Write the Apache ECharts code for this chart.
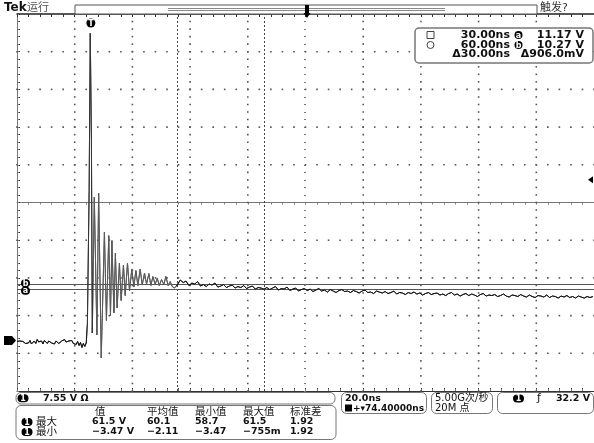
<!DOCTYPE html>
<html><head><meta charset="utf-8">
<script src="https://cdn.jsdelivr.net/npm/echarts@6/dist/echarts.min.js"></script>
<style>html,body{margin:0;padding:0;background:#fff}#c{width:594px;height:443px}</style>
</head><body><div id="c"></div>
<script>
// ===== DATA =====
const preTriggerStartNs = -25.6;
const preTriggerStepNs = 0.5;
const preTriggerVolts = [
  -0.2, -0.6, -0.1, -0.5, -0.2, 0.1, -0.6, -0.2, -0.5, 0.0,
  -0.7, -0.3, -0.1, -0.6, 0.2, -0.3, -0.5, -0.1, -0.7, 0.0,
  -0.3, -0.6, -0.1, 0.1, -0.5, -0.2, -0.7, -0.1, 0.0, -0.6,
  -0.3, -0.1, -0.5, 0.2, -0.3, -0.7, -0.1, -0.5, 0.0, -0.6,
  -0.3, -0.8, -0.2, -1.0, -0.4, -1.4, -0.6, -1.2, -0.5
];
const spikeTimesNs = [-1.2, -0.6, -0.2, 0.2, 0.5];
const spikeVolts = [3.3, 30.0, 61.5, 40.0, 1.5];
const ringTimesNs = [1.2, 2.1, 2.7, 3.6, 4.7, 5.4, 6.2, 6.8, 7.3, 8.0,
  8.5, 9.1, 9.9, 10.5, 11.3, 11.9, 12.7, 13.4, 14.2, 14.9,
  15.6, 16.3, 17.1, 17.8, 18.6, 19.3, 20.1, 20.8, 21.5, 22.3,
  23.0, 23.7, 24.5, 25.3, 26.0, 26.8, 27.5, 28.2, 29.0];
const ringVolts = [28.7, 1.1, 29.5, -3.47, 21.7, 4.0, 21.0, 5.0, 20.0, 5.5,
  17.5, 6.5, 15.5, 8.0, 15.1, 9.0, 15.5, 10.0, 14.3, 10.7,
  14.0, 11.0, 14.3, 11.1, 13.5, 11.3, 13.4, 11.0, 12.8, 11.2,
  12.5, 11.0, 12.2, 11.2, 12.8, 11.0, 11.8, 10.8, 10.5];
const tailStartNs = 30;
const tailStepNs = 1;
const tailVolts = [
  11.17, 12.1, 11.6, 11.9, 11.0, 11.5, 11.3, 11.8, 10.9, 11.2,
  10.8, 11.3, 11.1, 11.5, 10.7, 10.9, 11.2, 10.6, 10.9, 11.1,
  10.5, 10.8, 10.6, 11.0, 10.4, 10.7, 10.9, 10.3, 10.6, 10.5,
  10.27, 10.6, 10.2, 10.5, 10.8, 10.1, 10.4, 10.3, 10.7, 10.0,
  10.3, 10.5, 9.9, 10.2, 10.4, 10.0, 10.3, 9.8, 10.1, 10.4,
  9.9, 10.1, 9.7, 10.2, 9.9, 9.6, 10.0, 10.2, 9.8, 9.9,
  9.6, 10.0, 9.8, 9.5, 9.9, 10.1, 9.6, 9.7, 9.4, 9.9,
  9.7, 9.5, 9.8, 9.4, 9.6, 9.9, 9.3, 9.6, 9.5, 9.2,
  9.6, 9.4, 9.7, 9.3, 9.5, 9.1, 9.4, 9.6, 9.2, 9.4,
  9.5, 9.1, 9.3, 9.0, 9.4, 9.6, 9.1, 9.3, 8.9, 9.2,
  9.4, 9.0, 9.3, 9.1, 8.8, 9.2, 9.4, 8.9, 9.1, 9.0,
  9.2, 8.8, 9.0, 9.3, 8.9, 8.7, 9.1, 9.0, 8.8, 9.2,
  8.9, 8.7, 9.1, 8.8, 8.6, 9.0, 8.9, 8.7, 9.1, 8.6,
  8.9, 8.8, 8.5, 8.9, 8.7, 9.0, 8.6, 8.8, 8.5, 8.9,
  8.7, 8.5, 8.8, 8.6, 8.8
];
const cursorTimesNs = [30, 60];
const cursorVolts = [11.17, 10.27];
const cursorTimeLabels = ['30.00ns', '60.00ns', '\u039430.00ns'];
const cursorVoltLabels = ['11.17 V', '10.27 V', '\u0394906.0mV'];
const triggerLevelV = 32.2;
const measHeaders = ['值', '平均值', '最小值', '最大值', '标准差'];
const measRowNames = ['最大', '最小'];
const measRow1 = ['61.5 V', '60.1', '58.7', '61.5', '1.92'];
const measRow2 = ['\u22123.47 V', '\u22122.11', '\u22123.47', '\u2212755m', '1.92'];
const chScaleLabel = '7.55 V \u03A9';
const timebaseLabels = ['20.0ns', '+\u25BE74.40000ns'];
const sampleLabels = ['5.00G次/秒', '20M 点'];
const triggerLabel = '32.2 V';

// ===== scales =====
const voltsPerDiv = 7.55, groundDiv = 1.34, nsPerDiv = 20, horizPosNs = 74.4;
const vMin = -groundDiv * voltsPerDiv, vMax = (10 - groundDiv) * voltsPerDiv;
const tMin = horizPosNs - 5 * nsPerDiv, tMax = horizPosNs + 5 * nsPerDiv;

const trace = [];
preTriggerVolts.forEach((v, i) => trace.push([+(preTriggerStartNs + i * preTriggerStepNs).toFixed(2), v]));
spikeTimesNs.forEach((t, i) => trace.push([t, spikeVolts[i]]));
ringTimesNs.forEach((t, i) => trace.push([t, ringVolts[i]]));
tailVolts.forEach((v, i) => trace.push([tailStartNs + i * tailStepNs, v]));

// graticule dots (division units, minor step = 1/5 division)
const gratDots = [];
for (let k = 1; k <= 9; k++) {
  if (k === 5) continue;
  for (let j = 0; j <= 50; j++) { gratDots.push([k, j / 5]); gratDots.push([j / 5, k]); }
}

const chart = echarts.init(document.getElementById('c'), null, {renderer: 'canvas', width: 594, height: 443});
const L = 17, T = 14, W = 578, H = 377;
const gridLine = '#333', crossCol = '#777';
function gAxis(extra) {
  return Object.assign({type: 'value', min: 0, max: 10, interval: 1, axisLabel: {show: false},
    splitLine: {show: false}, axisTick: {show: false}, minorTick: {show: false}, axisLine: {show: false}}, extra);
}
const hidden = (gi) => ({type: 'value', gridIndex: gi, show: false, min: 0, max: 10});

chart.setOption({
  animation: false,
  backgroundColor: '#fff',
  grid: [
    {left: L, top: T, width: W, height: H},
    {left: L, top: T, width: W, height: H},
    {left: L, top: T, width: W, height: H / 2},
    {left: L, top: T + H / 2, width: W, height: H / 2},
    {left: L, top: T, width: W / 2, height: H},
    {left: L + W / 2, top: T, width: W / 2, height: H}
  ],
  xAxis: [
    gAxis({gridIndex: 0, position: 'bottom',
      axisLine: {show: true, lineStyle: {color: gridLine, width: 1}},
      axisTick: {show: true, inside: true, length: 3, lineStyle: {color: gridLine}},
      minorTick: {show: true, splitNumber: 5, length: 3, lineStyle: {color: gridLine}}}),
    gAxis({gridIndex: 0, position: 'top',
      axisLine: {show: true, lineStyle: {color: '#222', width: 1.5}},
      axisTick: {show: true, inside: true, length: 3, lineStyle: {color: gridLine}},
      minorTick: {show: true, splitNumber: 5, length: 3, lineStyle: {color: gridLine}}}),
    gAxis({gridIndex: 2, position: 'bottom',
      axisLine: {show: true, lineStyle: {color: crossCol, width: 1}},
      axisTick: {show: true, length: 2, lineStyle: {color: crossCol}},
      minorTick: {show: true, splitNumber: 5, length: 2, lineStyle: {color: crossCol}}}),
    gAxis({gridIndex: 3, position: 'top',
      axisTick: {show: true, length: 2, lineStyle: {color: crossCol}},
      minorTick: {show: true, splitNumber: 5, length: 2, lineStyle: {color: crossCol}}}),
    hidden(4), hidden(5),
    {type: 'value', gridIndex: 1, show: false, min: tMin, max: tMax}
  ],
  yAxis: [
    gAxis({gridIndex: 0, position: 'left',
      axisLine: {show: true, lineStyle: {color: gridLine, width: 1}},
      axisTick: {show: true, inside: true, length: 3, lineStyle: {color: gridLine}},
      minorTick: {show: true, splitNumber: 5, length: 3, lineStyle: {color: gridLine}}}),
    hidden(2), hidden(3),
    gAxis({gridIndex: 4, position: 'right',
      axisLine: {show: true, lineStyle: {color: crossCol, width: 1}},
      axisTick: {show: true, length: 2, lineStyle: {color: crossCol}},
      minorTick: {show: true, splitNumber: 5, length: 2, lineStyle: {color: crossCol}}}),
    gAxis({gridIndex: 5, position: 'left',
      axisTick: {show: true, length: 2, lineStyle: {color: crossCol}},
      minorTick: {show: true, splitNumber: 5, length: 2, lineStyle: {color: crossCol}}}),
    {type: 'value', gridIndex: 1, show: false, min: vMin, max: vMax}
  ],
  visualMap: {show: false, type: 'piecewise', seriesIndex: 0, dimension: 0,
    pieces: [{lt: -1.4, color: '#1a1a1a'}, {gte: -1.4, lt: 0.6, color: '#333'}, {gte: 0.6, lt: 29.5, color: '#5a5a5a'}, {gte: 29.5, color: '#1a1a1a'}]},
  series: [{
    type: 'line', xAxisIndex: 6, yAxisIndex: 5, data: trace, showSymbol: false, symbol: 'none',
    lineStyle: {width: 1}, z: 10, silent: true,
    markLine: {
      silent: true, symbol: 'none', label: {show: false}, z: 5,
      data: [
        {xAxis: cursorTimesNs[0], lineStyle: {color: '#444', width: 1, type: [2, 2]}},
        {xAxis: cursorTimesNs[1], lineStyle: {color: '#444', width: 1, type: [2, 2]}},
        {yAxis: cursorVolts[0], lineStyle: {color: '#555', width: 1, type: 'solid'}},
        {yAxis: cursorVolts[1], lineStyle: {color: '#555', width: 1, type: 'solid'}}
      ]
    }
  }, {
    type: 'scatter', xAxisIndex: 0, yAxisIndex: 0, data: gratDots, symbol: 'rect', symbolSize: 1.6,
    itemStyle: {color: '#555', opacity: 1}, silent: true, z: 1, animation: false, large: false
  }]
});

// ===== overlay annotations =====
const FONT = '"DejaVu Sans","Noto Sans CJK SC",sans-serif';
function txt(x, y, s, o) {
  o = o || {};
  return {type: 'text', x: x, y: y, z: 101, silent: true, style: {text: s, fill: o.fill || '#111',
    font: (o.weight || 'bold') + ' ' + (o.size || 9.5) + 'px ' + FONT,
    textAlign: o.align || 'left', align: o.align || 'left', textVerticalAlign: 'middle', verticalAlign: 'middle'}};
}
function rect(x, y, w, h, o) {
  o = o || {};
  return {type: 'rect', z: o.z || 99, silent: true, shape: {x: x, y: y, width: w, height: h, r: o.r || 0},
    style: {fill: o.fill || 'none', stroke: o.stroke || null, lineWidth: o.lw || 1}};
}
function badge(cx, cy, s, w, h) {
  return [rect(cx - w / 2, cy - h / 2, w, h, {fill: '#000', r: h / 2, z: 100}),
          txt(cx, cy + 0.5, s, {fill: '#fff', align: 'center', size: 8})];
}
function line(x1, y1, x2, y2, col, lw) {
  return {type: 'line', z: 99, silent: true, shape: {x1: x1, y1: y1, x2: x2, y2: y2}, style: {stroke: col, lineWidth: lw || 1}};
}
const px = (t, v) => chart.convertToPixel({xAxisIndex: 6, yAxisIndex: 5}, [t, v]);
const p0 = px(0, 0), pA = px(cursorTimesNs[0], cursorVolts[0]), pB = px(cursorTimesNs[1], cursorVolts[1]);
const pTrig = px(tMax, triggerLevelV);

let g = [];
// top bar
g.push(txt(4, 8, 'Tek', {size: 12}));
g.push(txt(27, 8, '运行', {weight: 'normal', size: 11, fill: '#555'}));
g.push(rect(75, 5, 462, 9, {fill: '#fff', stroke: '#555'}));
g.push(line(168, 8.5, 445, 8.5, '#888'), line(168, 10.5, 445, 10.5, '#888'));
g.push(rect(305, 5, 4, 9, {fill: '#000', z: 100}));
g.push({type: 'polygon', z: 100, silent: true, shape: {points: [[303.5, 13], [310.5, 13], [307, 18]]}, style: {fill: '#000'}});
g.push(txt(540, 8, '触发?', {weight: 'normal', size: 11, fill: '#333'}));
// trigger T marker
g = g.concat(badge(p0[0], 23, 'T', 9, 9));
// ground marker
g.push({type: 'polygon', z: 100, silent: true, shape: {points: [[4, p0[1] - 4.5], [12, p0[1] - 4.5], [16, p0[1]], [12, p0[1] + 4.5], [4, p0[1] + 4.5]]}, style: {fill: '#000'}});
// trigger level marker
g.push({type: 'polygon', z: 100, silent: true, shape: {points: [[593, pTrig[1] - 3.5], [593, pTrig[1] + 3.5], [588, pTrig[1]]]}, style: {fill: '#000'}});
// cursor labels
g = g.concat(badge(25.5, pA[1] - 1.5, 'b', 9, 8), badge(25.5, pB[1] + 1.5, 'a', 9, 8));
// cursor readout box
g.push(rect(415, 28, 178, 35, {fill: '#fff', stroke: '#777', r: 4, lw: 1.5, z: 98}));
g.push(rect(427, 31.5, 7, 7, {stroke: '#444'}));
g.push({type: 'circle', z: 99, silent: true, shape: {cx: 430.5, cy: 45, r: 3.5}, style: {fill: 'none', stroke: '#444'}});
[35, 45, 54.5].forEach((y, i) => {
  g.push(txt(510, y, cursorTimeLabels[i], {align: 'right', size: 11}));
  g.push(txt(584, y, cursorVoltLabels[i], {align: 'right', size: 11}));
});
g = g.concat(badge(518.5, 35, 'a', 8, 8), badge(518.5, 45, 'b', 8, 8));
// bottom panels
g.push(rect(16, 392.5, 319, 11.5, {fill: '#fff', stroke: '#777', r: 5}));
g = g.concat(badge(23, 398.2, '1', 11, 8));
g.push(txt(43, 398.5, chScaleLabel));
g.push(rect(16, 405.5, 320, 34, {fill: '#fff', stroke: '#777', r: 5}));
const cols = [92, 147, 195, 243, 290];
measHeaders.forEach((h, i) => g.push(txt(cols[i] + (i === 0 ? 3 : 0), 412, h, {weight: 'normal', size: 10.5, fill: '#222'})));
[measRow1, measRow2].forEach((row, r) => {
  const y = 422 + r * 10;
  g = g.concat(badge(27, y, '1', 11, 8));
  g.push(txt(36, y, measRowNames[r], {weight: 'normal', size: 10.5}));
  row.forEach((s, i) => g.push(txt(cols[i], y, s)));
});
g.push(rect(341.5, 392.5, 85, 21, {fill: '#fff', stroke: '#777', r: 5}));
g.push(txt(345, 398.5, timebaseLabels[0]));
g.push(rect(345, 404.5, 7, 7, {fill: '#000', z: 100}));
g.push(txt(353, 408.5, timebaseLabels[1], {size: 9}));
g.push(rect(431.5, 392.5, 61, 21, {fill: '#fff', stroke: '#777', r: 5}));
g.push(txt(435, 398.5, sampleLabels[0], {weight: 'normal', size: 10}));
g.push(txt(435, 408.5, sampleLabels[1], {weight: 'normal', size: 10}));
g.push(rect(497.5, 392.5, 96, 21, {fill: '#fff', stroke: '#777', r: 5}));
g = g.concat(badge(518.5, 398.5, '1', 11, 8));
g.push(txt(537, 398.5, '\u0192', {weight: 'normal', size: 11}));
g.push(txt(590, 398.5, triggerLabel, {align: 'right'}));

chart.setOption({graphic: {elements: g}});
</script></body></html>
